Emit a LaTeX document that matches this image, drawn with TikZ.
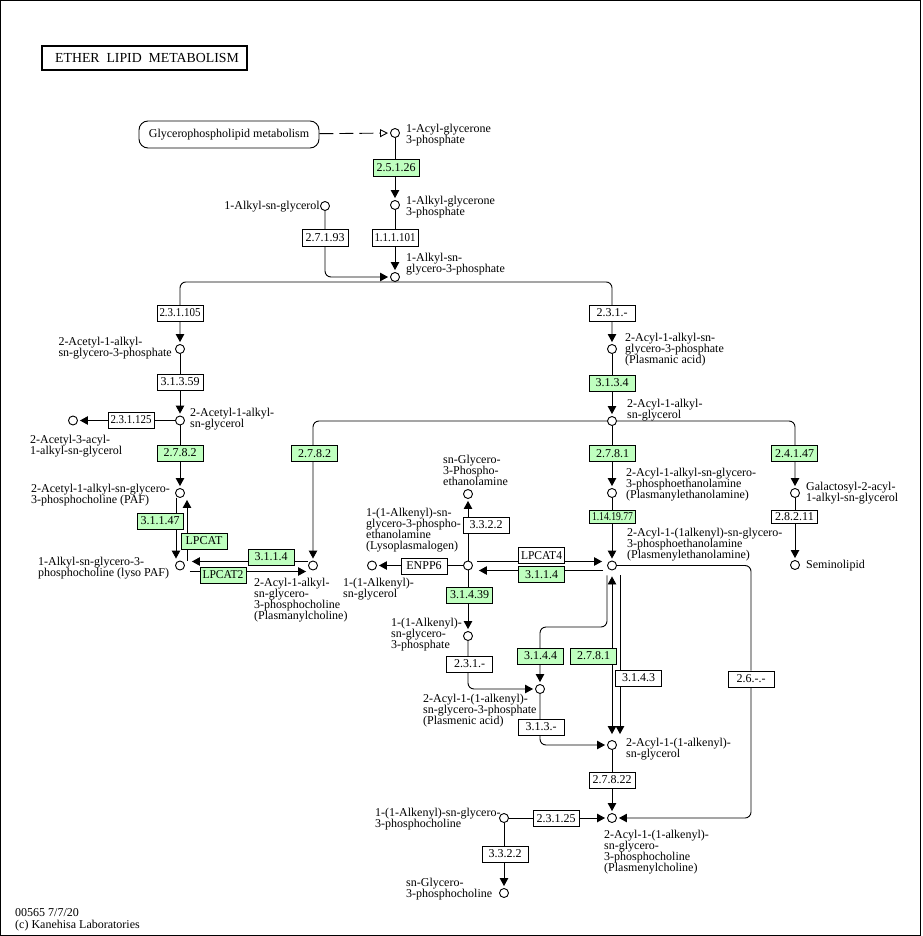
\documentclass[tikz,border=0pt]{standalone}
\usepackage{graphicx}
\usepackage{fontspec}
\setmainfont{Liberation Serif}
\usetikzlibrary{arrows.meta,backgrounds}

\definecolor{ecgreen}{RGB}{191,255,191}
\newsavebox{\ecbox}
\newcommand{\ecfit}[1]{\sbox{\ecbox}{#1}\ifdim\wd\ecbox>41pt\resizebox{41pt}{\height}{#1}\else\usebox{\ecbox}\fi}

\begin{document}
\begin{tikzpicture}[x=1pt,y=-1pt]
        \tikzset{
            every node/.style={font=\fontsize{12}{11}\selectfont},
            cpd/.style={circle,draw,fill=white,line width=0.9pt,minimum size=9pt,inner sep=0pt},
            enz/.style={rectangle,draw,fill=white,line width=0.9pt,minimum width=46pt,minimum height=16pt,inner sep=0pt},
            enzg/.style={enz,fill=ecgreen},
            lbl/.style={inner sep=0pt,align=left},
            conv/.style={line width=0.9pt,rounded corners=6pt,-{Triangle[length=8pt,width=8.5pt]},shorten >=2pt},
            conv2/.style={conv,{Triangle[length=8pt,width=8.5pt]}-{Triangle[length=8pt,width=8.5pt]},shorten <=2pt}
        }
        \useasboundingbox (0,0) rectangle (922,936);
        \draw[line width=1pt] (0.5,0.5) rectangle (920.5,935.5);

        %%% Title and map link
        \node[draw,line width=2pt,minimum width=205pt,minimum height=24pt,inner sep=0pt,font=\fontsize{13.8}{14}\selectfont] (title) at (144.5,58.5) {\hspace*{5pt}ETHER\ \ LIPID\ \ METABOLISM};
        \node[draw,line width=0.9pt,rounded corners=9pt,minimum width=180pt,minimum height=27pt,inner sep=0pt] (glyc) at (229,134.5) {Glycerophospholipid metabolism};

        %%% Compounds
        \node[cpd] (c1) at (395,133) {};
        \node[cpd] (c2) at (395,205) {};
        \node[cpd] (c3) at (395,277) {};
        \node[cpd] (c4) at (325,206) {};
        \node[cpd] (c5) at (180,349) {};
        \node[cpd] (c6) at (180,420.5) {};
        \node[cpd] (c7) at (73,420.5) {};
        \node[cpd] (c8) at (180,493) {};
        \node[cpd] (c9) at (180,565.5) {};
        \node[cpd] (c10) at (313,565.5) {};
        \node[cpd] (c11) at (612,421) {};
        \node[cpd] (c12) at (612,349) {};
        \node[cpd] (c13) at (795,493) {};
        \node[cpd] (c14) at (795,565) {};
        \node[cpd] (c15) at (612,493) {};
        \node[cpd] (c16) at (612,565.5) {};
        \node[cpd] (c17) at (612,818) {};
        \node[cpd] (c18) at (468,565.5) {};
        \node[cpd] (c19) at (468,494) {};
        \node[cpd] (c20) at (372,565.5) {};
        \node[cpd] (c21) at (468,636) {};
        \node[cpd] (c22) at (540,689) {};
        \node[cpd] (c23) at (612,745) {};
        \node[cpd] (c24) at (504,818) {};
        \node[cpd] (c25) at (504,893) {};
        \coordinate (k25) at (540,627);

        %%% Enzymes
        \node[enzg,minimum height=17pt] (e1) at (396,168) {\ecfit{2.5.1.26}};
        \node[enz,minimum height=17pt] (e2) at (395,238) {\ecfit{1.1.1.101}};
        \node[enz,minimum height=17pt] (e3) at (325,238) {\ecfit{2.7.1.93}};
        \node[enz] (e4) at (180,313) {\ecfit{2.3.1.105}};
        \node[enz] (e5) at (180,382) {\ecfit{3.1.3.59}};
        \node[enz] (e6) at (131,420) {\ecfit{2.3.1.125}};
        \node[enzg] (e7) at (180,453) {\ecfit{2.7.8.2}};
        \node[enzg] (e8) at (160,521) {\ecfit{3.1.1.47}};
        \node[enzg] (e9) at (204,541) {\ecfit{LPCAT}};
        \node[enzg] (e10) at (271,557) {\ecfit{3.1.1.4}};
        \node[enzg] (e11) at (223,575) {\ecfit{LPCAT2}};
        \node[enzg] (e12) at (314.5,453.5) {\ecfit{2.7.8.2}};
        \node[enz] (e13) at (612,313) {\ecfit{2.3.1.-}};
        \node[enzg] (e14) at (612,383) {\ecfit{3.1.3.4}};
        \node[enzg] (e15) at (612.5,453.5) {\ecfit{2.7.8.1}};
        \node[enzg] (e16) at (794.5,453.5) {\ecfit{2.4.1.47}};
        \node[enzg,minimum height=13pt] (e17) at (612.5,517) {\ecfit{1.14.19.77}};
        \node[enz,minimum height=13pt] (e18) at (794.5,517) {\ecfit{2.8.2.11}};
        \node[enz] (e19) at (486,525) {\ecfit{3.3.2.2}};
        \node[enz] (e20) at (424,566) {\ecfit{ENPP6}};
        \node[enz] (e21) at (541.5,555.5) {\ecfit{LPCAT4}};
        \node[enzg] (e22) at (541.5,574.5) {\ecfit{3.1.1.4}};
        \node[enzg] (e23) at (469.5,595) {\ecfit{3.1.4.39}};
        \node[enz] (e24) at (469.5,664) {\ecfit{2.3.1.-}};
        \node[enzg] (e25) at (540.5,656) {\ecfit{3.1.4.4}};
        \node[enzg] (e26) at (593.5,656) {\ecfit{2.7.8.1}};
        \node[enz] (e27) at (638.5,678) {\ecfit{3.1.4.3}};
        \node[enz] (e28) at (751,679) {\ecfit{2.6.-.-}};
        \node[enz] (e29) at (541,727) {\ecfit{3.1.3.-}};
        \node[enz] (e30) at (612,780) {\ecfit{2.7.8.22}};
        \node[enz] (e31) at (556,818.5) {\ecfit{2.3.1.25}};
        \node[enz] (e32) at (505,854) {\ecfit{3.3.2.2}};

        %%% Compound names
        \node[lbl,anchor=west] (t1) at (406,135.5) {1-Acyl-glycerone\\3-phosphate};
        \node[lbl,anchor=west] (t2) at (406,207) {1-Alkyl-glycerone\\3-phosphate};
        \node[lbl,anchor=west] (t3) at (406,264) {1-Alkyl-sn-\\glycero-3-phosphate};
        \node[lbl,anchor=east] (t4) at (320,207) {1-Alkyl-sn-glycerol};
        \node[lbl,anchor=east] (t5) at (172,348.5) {2-Acetyl-1-alkyl-\\sn-glycero-3-phosphate};
        \node[lbl,anchor=west] (t6) at (190,419) {2-Acetyl-1-alkyl-\\sn-glycerol};
        \node[lbl,anchor=west] (t7) at (30,446.5) {2-Acetyl-3-acyl-\\1-alkyl-sn-glycerol};
        \node[lbl,anchor=east] (t8) at (170,495) {2-Acetyl-1-alkyl-sn-glycero-\\3-phosphocholine (PAF)};
        \node[lbl,anchor=west] (t9) at (38,568) {1-Alkyl-sn-glycero-3-\\phosphocholine (lyso PAF)};
        \node[lbl,anchor=west] (t10) at (254,600.5) {2-Acyl-1-alkyl-\\sn-glycero-\\3-phosphocholine\\(Plasmanylcholine)};
        \node[lbl,anchor=west] (t12) at (625,349.5) {2-Acyl-1-alkyl-sn-\\glycero-3-phosphate\\(Plasmanic acid)};
        \node[lbl,anchor=west] (t11) at (627,410.5) {2-Acyl-1-alkyl-\\sn-glycerol};
        \node[lbl,anchor=west] (t13) at (806,493.5) {Galactosyl-2-acyl-\\1-alkyl-sn-glycerol};
        \node[lbl,anchor=west] (t14) at (806,565.5) {Seminolipid};
        \node[lbl,anchor=west] (t15) at (626,485) {2-Acyl-1-alkyl-sn-glycero-\\3-phosphoethanolamine\\(Plasmanylethanolamine)};
        \node[lbl,anchor=west] (t16) at (627,545) {2-Acyl-1-(1alkenyl)-sn-glycero-\\3-phosphoethanolamine\\(Plasmenylethanolamine)};
        \node[lbl,anchor=west] (t19) at (443,470) {sn-Glycero-\\3-Phospho-\\ethanolamine};
        \node[lbl,anchor=west] (t18) at (366,530) {1-(1-Alkenyl)-sn-\\glycero-3-phospho-\\ethanolamine\\(Lysoplasmalogen)};
        \node[lbl,anchor=west] (t20) at (343,589) {1-(1-Alkenyl)-\\sn-glycerol};
        \node[lbl,anchor=west] (t21) at (391,635) {1-(1-Alkenyl)-\\sn-glycero-\\3-phosphate};
        \node[lbl,anchor=west] (t22) at (423,711) {2-Acyl-1-(1-alkenyl)-\\sn-glycero-3-phosphate\\(Plasmenic acid)};
        \node[lbl,anchor=west] (t23) at (626,749) {2-Acyl-1-(1-alkenyl)-\\sn-glycerol};
        \node[lbl,anchor=west] (t17) at (604,852) {2-Acyl-1-(1-alkenyl)-\\sn-glycero-\\3-phosphocholine\\(Plasmenylcholine)};
        \node[lbl,anchor=west] (t24) at (375,819) {1-(1-Alkenyl)-sn-glycero-\\3-phosphocholine};
        \node[lbl,anchor=west] (t25) at (406,889.5) {sn-Glycero-\\3-phosphocholine};
        \node[lbl,anchor=west,font=\fontsize{12}{12.5}\selectfont] (stamp) at (15,920) {00565 7/7/20\\(c) Kanehisa Laboratories};

        %%% Reactions
        \begin{scope}[on background layer]
            \draw[conv,dash pattern=on 14pt off 6pt,-{Triangle[open,length=8pt,width=8pt]}] (glyc) -- (c1);
            \draw[conv] (c1) -- (c2);
            \draw[conv] (c2) -- (c3);
            \draw[conv] (c4) |- (c3);
            \draw[conv] (c3.south) -| (c5);
            \draw[conv] (c3.south) -| (c12);
            \draw[conv] (c5) -- (c6);
            \draw[conv] (c6) -- (c7);
            \draw[conv] (c6) -- (c8);
            \draw[conv] ([xshift=-4pt]c8.south) -- ([xshift=-4pt]c9.north);
            \draw[conv] ([xshift=7pt]c9.north) -- ([xshift=7pt]c8.south);
            \draw[conv] ([yshift=4pt]c10.west) -- ([xshift=5pt,yshift=4pt]c9.east);
            \draw[conv] ([xshift=5pt,yshift=-6pt]c9.east) -- ([yshift=-6pt]c10.west);
            \draw[conv] (c11) -| (c10);
            \draw[conv] (c12) -- (c11);
            \draw[conv] (c11) -- (c15);
            \draw[conv] (c11) -| (c13);
            \draw[conv] (c13) -- (c14);
            \draw[conv] (c15) -- (c16);
            \draw[conv] (c16) -| (e28) |- (c17);
            \draw[conv] ([xshift=4pt,yshift=4pt]c18.east) -- ([xshift=-3pt,yshift=4pt]c16.west);
            \draw[conv] ([xshift=-4pt,yshift=-5pt]c16.west) -- ([xshift=4pt,yshift=-5pt]c18.east);
            \draw[conv] (c18) -- (c19);
            \draw[conv] (c18) -- (c20);
            \draw[conv] (c18) -- (c21);
            \draw[conv] (c21) |- (c22);
            \draw[conv] ([xshift=-5pt,yshift=-5pt]c16.south) |- (k25) -- (c22);
            \draw[conv2] ([yshift=-4pt]c16.south) -- ([yshift=4pt]c23.north);
            \draw[conv] ([xshift=8pt,yshift=-5pt]c16.south) -- ([xshift=8pt,yshift=4pt]c23.north);
            \draw[conv] (c22) |- (c23);
            \draw[conv] (c23) -- (c17);
            \draw[conv] (c24) -- (c17);
            \draw[conv] (c24) -- (c25);
        \end{scope}
\end{tikzpicture}
\end{document}
